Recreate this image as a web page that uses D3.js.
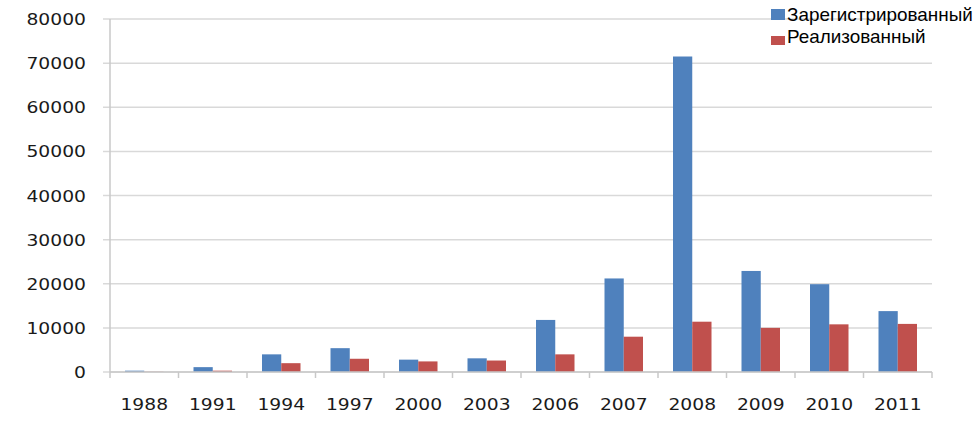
<!DOCTYPE html>
<html>
<head>
<meta charset="utf-8">
<script src="https://cdn.jsdelivr.net/npm/d3@7"></script>
<style>
  body { margin: 0; background: #fff; }
  svg { display: block; }
</style>
</head>
<body>
<div id="chart"></div>
<script>
const years = ["1988", "1991", "1994", "1997", "2000", "2003", "2006", "2007", "2008", "2009", "2010", "2011"]
const registered = [300, 1100, 4000, 5400, 2800, 3100, 11800, 21200, 71500, 22900, 19900, 13800]
const realized = [50, 300, 2000, 3000, 2400, 2600, 4000, 8000, 11400, 10000, 10800, 10900]
const seriesNames = ["Зарегистрированный", "Реализованный"]
const yTicks = [0, 10000, 20000, 30000, 40000, 50000, 60000, 70000, 80000]

const width = 976
const height = 426
const colors = ["#4f81bd", "#c0504d"]

const rows = years.map((y, i) => ({ year: y, values: [registered[i], realized[i]] }))

const svg = d3.select("#chart")
  .append("svg")
  .attr("width", width)
  .attr("height", height)

const x0 = d3.scaleBand().domain(years).range([110, 932]).padding(0)
// bars take about 39px of the 68.5px slot
const x1 = d3.scaleBand().domain([0, 1]).range([15, x0.bandwidth() - 15]).padding(0)
const yScale = d3.scaleLinear().domain([0, 80000]).range([372, 19])

// gridlines
svg.append("g")
  .selectAll("line")
  .data(yTicks)
  .join("line")
  .attr("x1", 103)
  .attr("x2", 932)
  .attr("y1", d => yScale(d))
  .attr("y2", d => yScale(d))
  .attr("stroke", "#d9d9d9")
  .attr("stroke-width", 1.5)

// y labels (the picture is a bit stretched sideways, hence the scale)
svg.append("g")
  .selectAll("text")
  .data(yTicks)
  .join("text")
  .attr("transform", d => "translate(86," + (yScale(d) + 6) + ") scale(1.17,1)")
  .attr("text-anchor", "end")
  .attr("font-family", "DejaVu Sans")
  .attr("font-size", 16)
  .attr("fill", "#1a1a1a")
  .text(d => d)

// bars
svg.append("g")
  .selectAll("g")
  .data(rows)
  .join("g")
  .attr("transform", d => "translate(" + x0(d.year) + ",0)")
  .selectAll("rect")
  .data(d => d.values.map((v, k) => ({ k, v })))
  .join("rect")
  .attr("x", d => x1(d.k))
  .attr("width", x1.bandwidth())
  .attr("y", d => yScale(d.v))
  .attr("height", d => yScale(0) - yScale(d.v))
  .attr("fill", d => colors[d.k])

// axes lines
svg.append("line")
  .attr("x1", 110).attr("x2", 110)
  .attr("y1", yScale(80000)).attr("y2", yScale(0))
  .attr("stroke", "#c8c8c8").attr("stroke-width", 1.5)

svg.append("line")
  .attr("x1", 110).attr("x2", 932)
  .attr("y1", yScale(0)).attr("y2", yScale(0))
  .attr("stroke", "#c8c8c8").attr("stroke-width", 1.5)

const bounds = years.map(y => x0(y)).concat([x0.range()[1]])
svg.append("g")
  .selectAll("line")
  .data(bounds)
  .join("line")
  .attr("x1", d => d).attr("x2", d => d)
  .attr("y1", yScale(0)).attr("y2", yScale(0) + 6)
  .attr("stroke", "#c8c8c8").attr("stroke-width", 1.5)

// x labels
svg.append("g")
  .selectAll("text")
  .data(years)
  .join("text")
  .attr("transform", d => "translate(" + (x0(d) + x0.bandwidth() / 2) + ",410) scale(1.17,1)")
  .attr("text-anchor", "middle")
  .attr("font-family", "DejaVu Sans")
  .attr("font-size", 16)
  .attr("fill", "#1a1a1a")
  .text(d => d)

// legend
const legend = svg.append("g")
legend.append("rect").attr("x", 771).attr("y", 9).attr("width", 14).attr("height", 11).attr("fill", colors[0])
legend.append("rect").attr("x", 771).attr("y", 36).attr("width", 14).attr("height", 9).attr("fill", colors[1])
legend.selectAll("text")
  .data(seriesNames)
  .join("text")
  .attr("transform", (d, i) => "translate(787," + (21 + i * 22) + ") scale(1.05,1)")
  .attr("font-family", "Liberation Sans")
  .attr("font-size", 18)
  .attr("fill", "#000")
  .text(d => d)
</script>
</body>
</html>
